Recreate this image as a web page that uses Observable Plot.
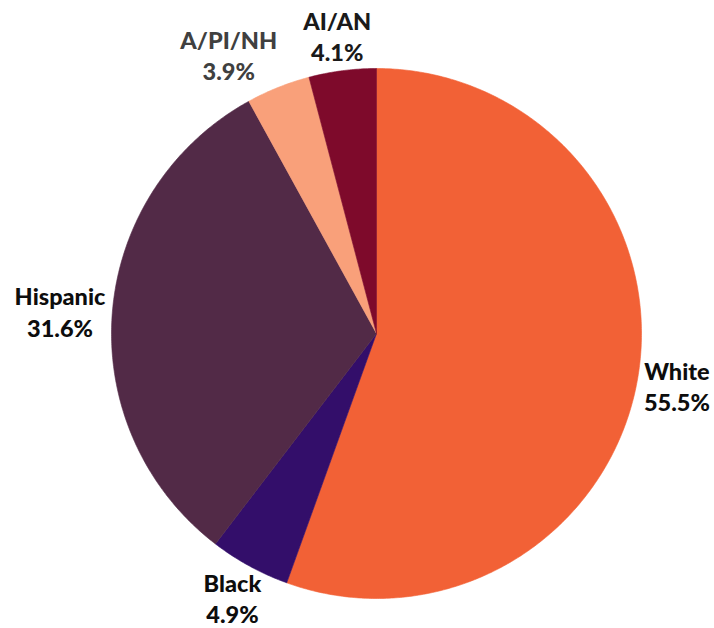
<!DOCTYPE html>
<html>
<head>
<meta charset="utf-8">
<script src="https://cdn.jsdelivr.net/npm/d3@7"></script>
<script src="https://cdn.jsdelivr.net/npm/@observablehq/plot@0.6"></script>
<style>
  html, body { margin: 0; padding: 0; background: #ffffff; }
  #chart { width: 714px; height: 628px; }
</style>
</head>
<body>
<div id="chart"></div>
<script>
// ---- data ----
const categories = ["White", "Black", "Hispanic", "A/PI/NH", "AI/AN"];
const percents = [55.5, 4.9, 31.6, 3.9, 4.1];
// ---- styles ----
const colors = ["#F26136", "#330E6A", "#522A47", "#F9A07A", "#7E0A2B"];
const labelColors = ["#0d0d0d", "#0d0d0d", "#0d0d0d", "#404040", "#1a1a1a"];

const W = 714, H = 628;
const R = 265, CX = 376, CY = 333;      // pie radius and centre (px)
const fontFamily = "Lato, 'Open Sans', sans-serif";
const fontSize = 23.5;
const fontWeight = 900;
const lineH = 1.34;

const rows = categories.map((c, i) => ({label: c, value: percents[i], color: colors[i], tcolor: labelColors[i]}));
const arcs = d3.pie().sort(null).value(d => d.value).startAngle(0).endAngle(2 * Math.PI)(rows);

// slice polygons in unit-radius coordinates (y downward)
const pts = [];
for (const a of arcs) {
  const lab = a.data.label;
  pts.push({label: lab, x: 0, y: 0});
  const n = Math.max(2, Math.ceil((a.endAngle - a.startAngle) / (Math.PI / 360)));
  for (let k = 0; k <= n; k++) {
    const t = a.startAngle + (a.endAngle - a.startAngle) * k / n;
    pts.push({label: lab, x: Math.sin(t), y: -Math.cos(t)});
  }
  pts.push({label: lab, x: 0, y: 0});
}

// label placement: outside end, box touching point just outside the arc
const ctx = document.createElement("canvas").getContext("2d");
ctx.font = `${fontWeight} ${fontSize}px ${fontFamily}`;
const gap = 7;
const labels = arcs.map(a => {
  const m = (a.startAngle + a.endAngle) / 2;
  const ux = Math.sin(m), uy = -Math.cos(m);
  const text = `${a.data.label}\n${a.data.value.toFixed(1)}%`;
  const w = Math.max(...text.split("\n").map(s => ctx.measureText(s).width));
  const h = fontSize * lineH * 2 - 6;
  const cx = (R + gap) * ux + ux * w / 2;
  const cy = (R + gap) * uy + uy * h / 2;
  return {text, w, h, cx, cy, color: a.data.tcolor};
});
// simple collision avoidance: push left label further left
for (let i = 0; i < labels.length; i++) {
  for (let j = 0; j < labels.length; j++) {
    if (i === j) continue;
    const A = labels[i], B = labels[j];
    const ox = Math.abs(A.cx - B.cx) < (A.w + B.w) / 2;
    const oy = Math.abs(A.cy - B.cy) < (A.h + B.h) / 2;
    if (ox && oy && A.cx < B.cx && A.cx < 0) {
      A.cx = B.cx - B.w / 2 - 26 - A.w / 2;
    }
  }
}
const labelData = labels.map(l => ({text: l.text, x: l.cx / R, y: l.cy / R, color: l.color}));

const chart = Plot.plot({
  width: W,
  height: H,
  margin: 0,
  x: {domain: [-CX / R, (W - CX) / R], range: [0, W], axis: null},
  y: {domain: [-CY / R, (H - CY) / R], range: [0, H], axis: null},
  color: {domain: categories, range: colors},
  style: {background: "#ffffff"},
  marks: [
    Plot.line(pts, {x: "x", y: "y", z: "label", fill: "label", stroke: "label", strokeWidth: 0.6, curve: "linear"}),
    Plot.text(labelData, {
      x: "x", y: "y", text: "text",
      fill: d => d.color,
      fontFamily, fontSize, fontWeight,
      lineHeight: lineH, lineAnchor: "middle", textAnchor: "middle"
    })
  ]
});
document.getElementById("chart").appendChild(chart);
</script>
</body>
</html>
